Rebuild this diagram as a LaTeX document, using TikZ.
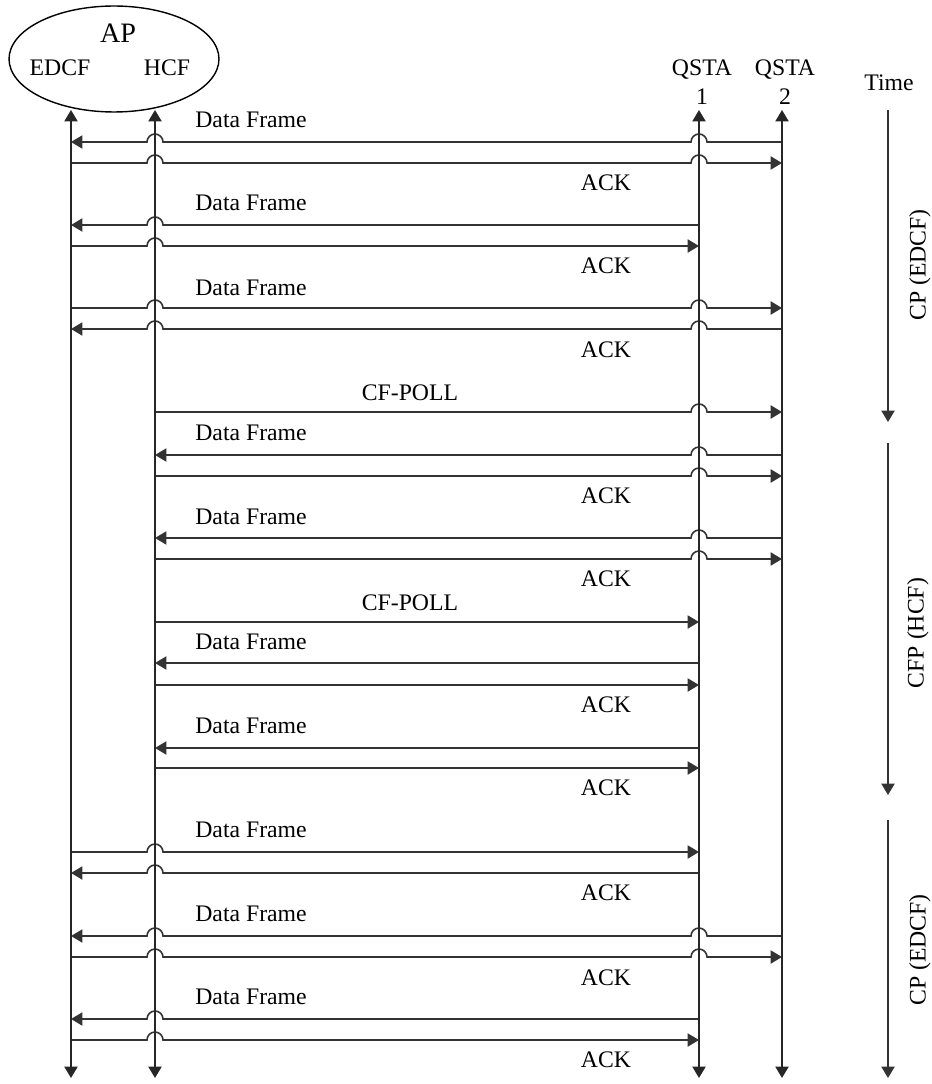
\documentclass[tikz,border=0pt]{standalone}
\usepackage{fontspec}
\setmainfont{Liberation Serif}
\usetikzlibrary{arrows.meta,shapes.geometric}

\tikzset{
  >={Triangle[length=6.5pt,width=7.5pt]},
  lifeline/.style={line width=0.9pt, black!85, <->},
  msgline/.style={line width=0.9pt, black!80},
  lbl/.style={font=\fontsize{13.5}{16}\selectfont, inner sep=0pt},
  phase/.style={font=\fontsize{13.5}{16}\selectfont, inner sep=0pt, rotate=90},
}

% message line from #3 to #4 at height #2, hopping over lifelines #5
\newcommand{\msg}[5]{%
  \draw[msgline,#1] (#3 |- 0,#2) \foreach \h in {#5} { -- ([xshift=-0.16cm]\h |- 0,#2) arc[start angle=180,end angle=0,radius=0.16cm] } -- (#4 |- 0,#2);
}

\begin{document}
\begin{tikzpicture}[x=0.02cm, y=0.02cm]
    \useasboundingbox (0, 0) rectangle (932, -1084);

    % access point and stations
    \node[draw, ellipse, line width=0.8pt, minimum width=4.2cm, minimum height=2.12cm] (ap) at (114, -59) {};
    \node[font=\fontsize{16}{18}\selectfont] (aplbl) at (118, -33) {AP};
    \node[lbl] (edcflbl) at (60, -68) {EDCF};
    \node[lbl] (hcflbl) at (167, -68) {HCF};
    \node[lbl] (q1lbl) at (702, -70) {QSTA};
    \node[lbl] (q1num) at (702, -97) {1};
    \node[lbl] (q2lbl) at (785, -70) {QSTA};
    \node[lbl] (q2num) at (785, -97) {2};
    \node[lbl] (timelbl) at (889, -83) {Time};

    \coordinate (edcf) at (71, -110);
    \coordinate (hcf) at (155, -110);
    \coordinate (qsta1) at (699, -110);
    \coordinate (qsta2) at (782, -110);

    % messages
    \msg{<-}{-142}{edcf}{qsta2}{hcf,qsta1}
    \msg{->}{-163}{edcf}{qsta2}{hcf,qsta1}
    \msg{<-}{-225}{edcf}{qsta1}{hcf}
    \msg{->}{-246}{edcf}{qsta1}{hcf}
    \msg{->}{-308}{edcf}{qsta2}{hcf,qsta1}
    \msg{<-}{-329}{edcf}{qsta2}{hcf,qsta1}
    \msg{->}{-412}{hcf}{qsta2}{qsta1}
    \msg{<-}{-455}{hcf}{qsta2}{qsta1}
    \msg{->}{-476}{hcf}{qsta2}{qsta1}
    \msg{<-}{-538}{hcf}{qsta2}{qsta1}
    \msg{->}{-559}{hcf}{qsta2}{qsta1}
    \draw[msgline, ->] (hcf |- 0,-622) -- (qsta1 |- 0,-622);
    \draw[msgline, <-] (hcf |- 0,-663) -- (qsta1 |- 0,-663);
    \draw[msgline, ->] (hcf |- 0,-685) -- (qsta1 |- 0,-685);
    \draw[msgline, <-] (hcf |- 0,-748) -- (qsta1 |- 0,-748);
    \draw[msgline, ->] (hcf |- 0,-768) -- (qsta1 |- 0,-768);
    \msg{->}{-852}{edcf}{qsta1}{hcf}
    \msg{<-}{-873}{edcf}{qsta1}{hcf}
    \msg{<-}{-936}{edcf}{qsta2}{hcf,qsta1}
    \msg{->}{-957}{edcf}{qsta2}{hcf,qsta1}
    \msg{<-}{-1019}{edcf}{qsta1}{hcf}
    \msg{->}{-1040}{edcf}{qsta1}{hcf}

    % lifelines
    \draw[lifeline] (edcf) -- (edcf |- 0,-1078);
    \draw[lifeline] (hcf) -- (hcf |- 0,-1078);
    \draw[lifeline] (qsta1) -- (qsta1 |- 0,-1078);
    \draw[lifeline] (qsta2) -- (qsta2 |- 0,-1078);

    % labels
    \node[lbl] (df1) at (251, -120) {Data Frame};
    \node[lbl] (ack1) at (606, -183) {ACK};
    \node[lbl] (df2) at (251, -203) {Data Frame};
    \node[lbl] (ack2) at (606, -266) {ACK};
    \node[lbl] (df3) at (251, -288) {Data Frame};
    \node[lbl] (ack3) at (606, -350) {ACK};
    \node[lbl] (poll1) at (410, -393) {CF-POLL};
    \node[lbl] (df4) at (251, -433) {Data Frame};
    \node[lbl] (ack4) at (606, -496) {ACK};
    \node[lbl] (df5) at (251, -517) {Data Frame};
    \node[lbl] (ack5) at (606, -579) {ACK};
    \node[lbl] (poll2) at (410, -603) {CF-POLL};
    \node[lbl] (df6) at (251, -642) {Data Frame};
    \node[lbl] (ack6) at (606, -705) {ACK};
    \node[lbl] (df7) at (251, -726) {Data Frame};
    \node[lbl] (ack7) at (606, -788) {ACK};
    \node[lbl] (df8) at (251, -830) {Data Frame};
    \node[lbl] (ack8) at (606, -893) {ACK};
    \node[lbl] (df9) at (251, -914) {Data Frame};
    \node[lbl] (ack9) at (606, -978) {ACK};
    \node[lbl] (df10) at (251, -997) {Data Frame};
    \node[lbl] (ack10) at (606, -1060) {ACK};

    % time axis
    \coordinate (t0) at (888, -110);
    \coordinate (t1) at (888, -422);
    \coordinate (t2) at (888, -443);
    \coordinate (t3) at (888, -795);
    \coordinate (t4) at (888, -820);
    \coordinate (t5) at (888, -1078);
    \draw[msgline, ->] (t0) -- (t1);
    \draw[msgline, ->] (t2) -- (t3);
    \draw[msgline, ->] (t4) -- (t5);
    \node[phase] (cp1) at (920, -265) {CP (EDCF)};
    \node[phase] (cfp) at (918, -633) {CFP (HCF)};
    \node[phase] (cp2) at (920, -950) {CP (EDCF)};
\end{tikzpicture}
\end{document}
